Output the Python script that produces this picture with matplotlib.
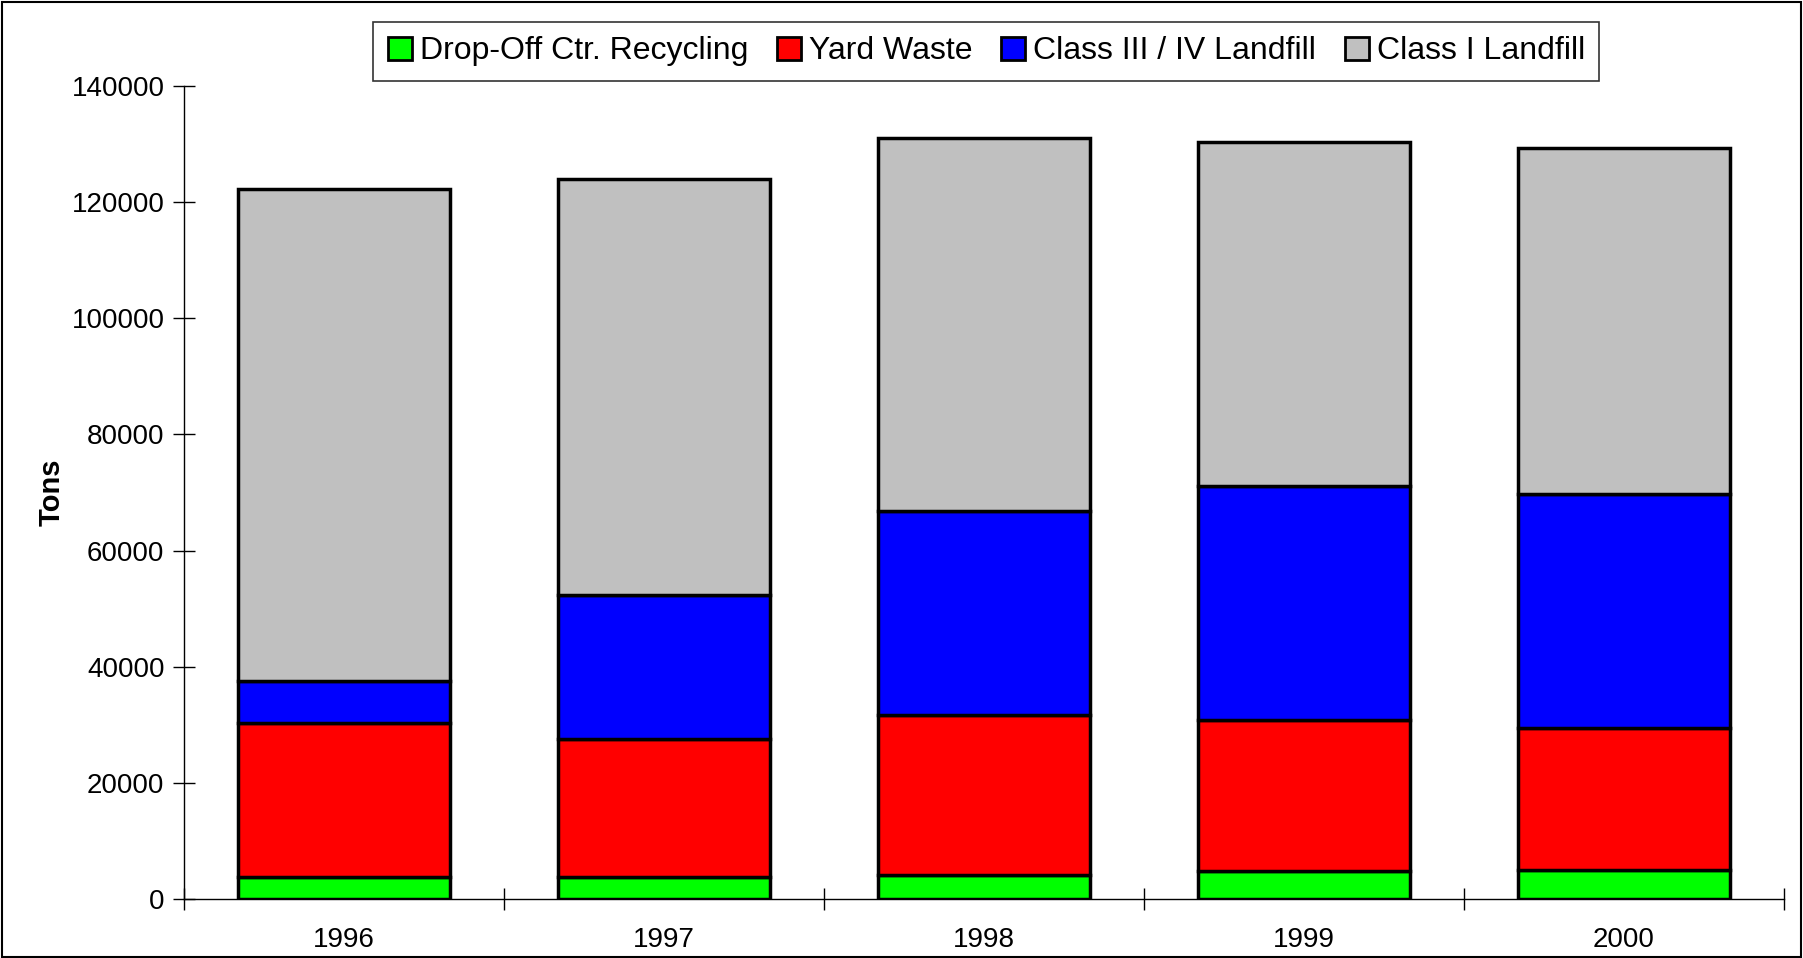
import matplotlib.pyplot as plt
from matplotlib.patches import Rectangle
import numpy as np

plt.rcParams['font.family'] = ['Liberation Sans', 'DejaVu Sans']

years = ['1996', '1997', '1998', '1999', '2000']
# tons per category, bottom to top
dropoff = [3800, 3800, 4200, 4750, 4950]
yard = [26500, 23700, 27500, 26150, 24550]
class34 = [7300, 24800, 35200, 40200, 40200]
class1 = [84600, 71700, 64200, 59200, 59600]

series = [
    ('Drop-Off Ctr. Recycling', dropoff, '#00ff00'),
    ('Yard Waste', yard, '#ff0000'),
    ('Class III / IV Landfill', class34, '#0000ff'),
    ('Class I Landfill', class1, '#c0c0c0'),
]

fig = plt.figure(figsize=(18.03, 9.58), dpi=100)
ax = fig.add_axes([0.102, 0.0616, 0.8875, 0.8486])

x = np.arange(len(years))
bottom = np.zeros(len(years))
for name, vals, col in series:
    ax.bar(x, vals, width=0.665, bottom=bottom, color=col, edgecolor='black',
           linewidth=2.5, label=name, zorder=3)
    bottom += np.array(vals)

ax.set_xlim(-0.5, len(years) - 0.5)
ax.set_ylim(0, 140000)
ax.set_yticks(np.arange(0, 140001, 20000))
ax.set_xticks(np.arange(-0.5, len(years), 1.0))
ax.set_xticklabels([])
ax.set_xticks(x, minor=True)
ax.set_xticklabels(years, minor=True)
ax.tick_params(axis='x', which='minor', length=0, labelsize=20, pad=20)
ax.tick_params(axis='x', which='major', direction='inout', length=16, width=1)
ax.tick_params(axis='y', direction='inout', length=16, width=1, labelsize=20, pad=6)

for s in ['top', 'right']:
    ax.spines[s].set_visible(False)
ax.spines['left'].set_linewidth(1)
ax.spines['bottom'].set_linewidth(1)

ax.set_ylabel('Tons', fontsize=21, fontweight='bold', labelpad=4)

leg = fig.legend(loc='upper center', bbox_to_anchor=(0.547, 0.977), ncol=4,
                 fontsize=23, frameon=True, fancybox=False, edgecolor='black',
                 handlelength=0.75, handleheight=0.75, handletextpad=0.25,
                 columnspacing=0.9, borderpad=0.45, borderaxespad=0)
leg.get_frame().set_linewidth(1.2)
for h in leg.legend_handles:
    h.set_linewidth(2)

fig.patches.append(Rectangle((0.001, 0.001), 0.998, 0.997, transform=fig.transFigure,
                             fill=False, edgecolor='black', linewidth=1.5))

fig.savefig('out.png', dpi=100)
